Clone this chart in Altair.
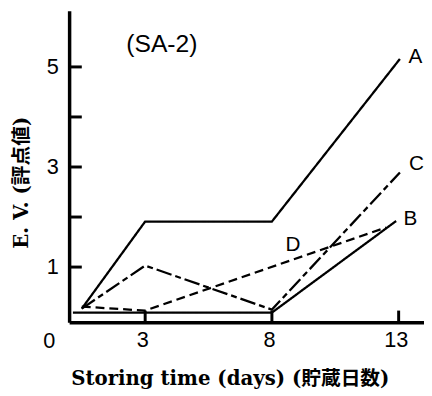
import altair as alt
import pandas as pd

# --- data ---
series = ["A", "B", "C", "D"]
days_A = [0.5, 3, 8, 13.05]
ev_A = [0.17, 1.91, 1.91, 5.16]
days_B = [0.15, 3, 8, 12.9]
ev_B = [0.09, 0.09, 0.09, 1.92]
days_C = [0.5, 3, 8, 13.05]
ev_C = [0.17, 1.03, 0.15, 2.89]
days_D = [0.5, 3, 12.5]
ev_D = [0.21, 0.13, 1.79]

x_tick_values = [3, 8, 13]
y_tick_values = [1, 2, 3, 4, 5]
y_label_values = [1, 3, 5]

label_text = ["A", "B", "C", "D"]
label_day = [13.66, 13.46, 13.7, 8.83]
label_ev = [5.2, 1.95, 3.05, 1.43]

panel_title = "(SA-2)"
x_title = "Storing time (days) (貯蔵日数)"
y_title = "E. V. (評点値)"

# --- tables ---
rows = []
for s, dd, vv in zip(series, [days_A, days_B, days_C, days_D], [ev_A, ev_B, ev_C, ev_D]):
    for i, (d, v) in enumerate(zip(dd, vv)):
        rows.append({"series": s, "day": d, "ev": v, "order": i})
df_lines = pd.DataFrame(rows)

df_ytick = pd.DataFrame({"day": [0] * len(y_tick_values), "day2": [0.5] * len(y_tick_values), "ev": y_tick_values})
df_xtick = pd.DataFrame({"day": x_tick_values, "ev": [-0.1] * len(x_tick_values), "ev2": [0.13] * len(x_tick_values)})
df_labels = pd.DataFrame({"day": label_day, "ev": label_ev, "txt": label_text})
df_title = pd.DataFrame({"day": [3.66], "ev": [5.45], "txt": [panel_title]})
df_zero = pd.DataFrame({"day": [-0.78], "ev": [-0.48], "txt": ["0"]})

xs = alt.Scale(domain=[0, 14], nice=False, zero=False)
ys = alt.Scale(domain=[-0.103, 6.123], nice=False, zero=False)

TITLE_FONT = "DejaVu Serif, Noto Sans CJK JP"
LABEL_FONT = "Liberation Sans"

x_axis = alt.Axis(values=x_tick_values, tickSize=0, grid=False, domainWidth=3.5, domainColor="black",
                  labelFont=LABEL_FONT, labelFontSize=22, labelColor="black", labelPadding=8,
                  labelOffset=-3, title=x_title, titleFont=TITLE_FONT, titleFontSize=20,
                  titleFontWeight="bold", titleColor="black", titleX=163, titleY=57,
                  titleBaseline="middle", titleAnchor="middle", titleAlign="center")
y_axis = alt.Axis(values=y_label_values, tickSize=0, grid=False, domainWidth=3.5, domainColor="black",
                  labelFont=LABEL_FONT, labelFontSize=22, labelColor="black", labelPadding=11,
                  title=y_title, titleFont=TITLE_FONT, titleFontSize=20, titleFontWeight="bold",
                  titleColor="black", titleX=-48, titleY=174, titleBaseline="middle",
                  titleAlign="center", titleAngle=270)

X = alt.X("day:Q", scale=xs, axis=x_axis)
Y = alt.Y("ev:Q", scale=ys, axis=y_axis)

lines = alt.Chart(df_lines).mark_line(color="black", strokeWidth=2.3).encode(
    x=X, y=Y,
    detail="series:N",
    order="order:O",
    strokeDash=alt.StrokeDash("series:N", scale=alt.Scale(domain=series,
                              range=[[1, 0], [1, 0], [16, 4, 6, 4], [9, 5]]), legend=None),
)

yticks = alt.Chart(df_ytick).mark_rule(color="black", strokeWidth=3).encode(x=X, x2="day2:Q", y=Y)
xticks = alt.Chart(df_xtick).mark_rule(color="black", strokeWidth=3).encode(x=X, y=Y, y2="ev2:Q")

labels = alt.Chart(df_labels).mark_text(font=LABEL_FONT, fontSize=21, color="black",
                                        align="center", baseline="middle").encode(x=X, y=Y, text="txt:N")
ptitle = alt.Chart(df_title).mark_text(font=LABEL_FONT, fontSize=25, color="black",
                                       align="center", baseline="middle").encode(x=X, y=Y, text="txt:N")
zero = alt.Chart(df_zero).mark_text(font=LABEL_FONT, fontSize=22, color="black",
                                    align="center", baseline="middle").encode(x=X, y=Y, text="txt:N")

chart = alt.layer(lines, yticks, xticks, labels, ptitle, zero).properties(
    width=360, height=316,
    padding={"left": 62, "top": 0, "right": 0, "bottom": 70},
    autosize=alt.AutoSizeParams(type="none"),
    background="white",
).configure_view(stroke=None)

chart.save("out.html", embed_options={"renderer": "svg", "actions": False})
